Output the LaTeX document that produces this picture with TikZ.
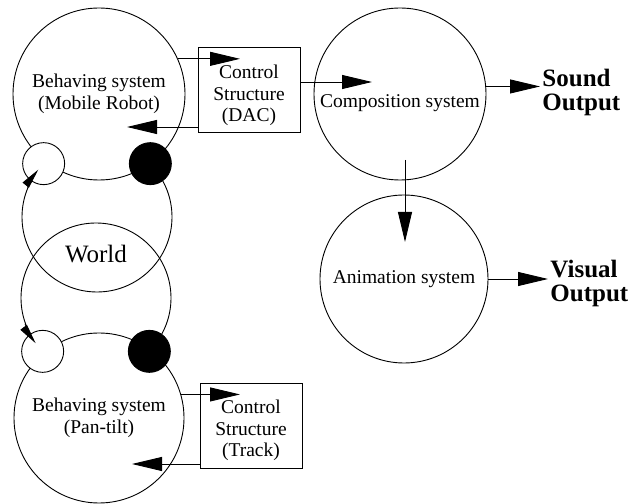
\documentclass[tikz,border=0pt]{standalone}
\usepackage{fontspec}
\setmainfont{Liberation Serif}
\usetikzlibrary{arrows.meta,positioning,calc}

\begin{document}
\begin{tikzpicture}
   [>={Triangle[length=30pt,width=14pt]},x=1pt,y=1pt,line width=0.9pt,
    txt/.style={align=center,font=\fontsize{19.5}{21.5}\selectfont},
    sys/.style={circle,draw,fill=white,inner sep=0pt,minimum size=#1},
    loopc/.style={circle,draw,inner sep=0pt,minimum size=150pt},
    ctrl/.style={draw,minimum width=102pt,minimum height=85pt},
    sensor/.style={circle,draw,fill=white,inner sep=0pt,minimum size=42pt},
    effector/.style={sensor,fill=black},
    outtxt/.style={align=left,anchor=west,inner sep=2pt,font=\fontsize{25}{24}\selectfont\bfseries},
    small/.style={-{Triangle[length=20pt,width=8pt]}}]

    \useasboundingbox (0,0) rectangle (633,504);

    % sensory-motor loops through the world
    \node[loopc] (loopA) at (97,287) {};
    \node[loopc] (loopB) at (96,206) {};
    \node[font=\fontsize{25}{25}\selectfont] (world) at (96,250) {World};

    \node[sys=172pt,txt] (behA) at (99,410) {Behaving system\\(Mobile Robot)};
    \node[sys=170pt,txt] (behB) at (99,86) {Behaving system\\(Pan-tilt)};

    \node[sensor] (sensA) at (loopA.135) {};
    \node[effector] (actA) at (loopA.45) {};
    \node[sensor] (sensB) at (loopB.225) {};
    \node[effector] (actB) at (loopB.315) {};

    \draw[small] (loopA.157) arc[start angle=157, end angle=141, radius=75];
    \draw[small] (loopB.200) arc[start angle=200, end angle=217, radius=75];

    % control structures
    \node[ctrl] (ctrlA) at (249,414.5) {};
    \node[txt] (dacTxt) at ([yshift=-6pt]ctrlA.center) {Control\\Structure\\(DAC)};
    \node[ctrl] (ctrlB) at (251,78.5) {};
    \node[txt] (trackTxt) at ([yshift=-5pt]ctrlB.center) {Control\\Structure\\(Track)};

    % output side
    \node[sys=172pt] (comp) at (400,410) {};
    \node[txt] (compTxt) at ([yshift=-9pt]comp.center) {Composition system};
    \node[sys=168pt,txt] (anim) at (404,225) {Animation system};

    \node[outtxt] (sound) at (540,412) {Sound\\Output};
    \node[outtxt] (visual) at (548,221) {Visual\\Output};

    \coordinate (dacIn) at (240,444);
    \coordinate (robotIn) at (127,377);
    \coordinate (compIn) at (372,422);
    \coordinate (compOut) at (405,344);
    \coordinate (animIn) at (405,262);
    \coordinate (trackIn) at (240,109);
    \coordinate (tiltIn) at (132,40);

    \draw[->] (behA.24) -- (behA.24 -| dacIn);
    \draw[->] (robotIn -| ctrlA.west) -- (robotIn);
    \draw[->] (compIn -| ctrlA.east) -- (compIn);
    \draw[->] (comp.5) -- (comp.5 -| sound.west);
    \draw[->] (compOut) -- (animIn);
    \draw[->] (anim.east) -- (anim.east -| visual.west);
    \draw[->] (behB.16) -- (behB.16 -| trackIn);
    \draw[->] (tiltIn -| ctrlB.west) -- (tiltIn);

\end{tikzpicture}
\end{document}
